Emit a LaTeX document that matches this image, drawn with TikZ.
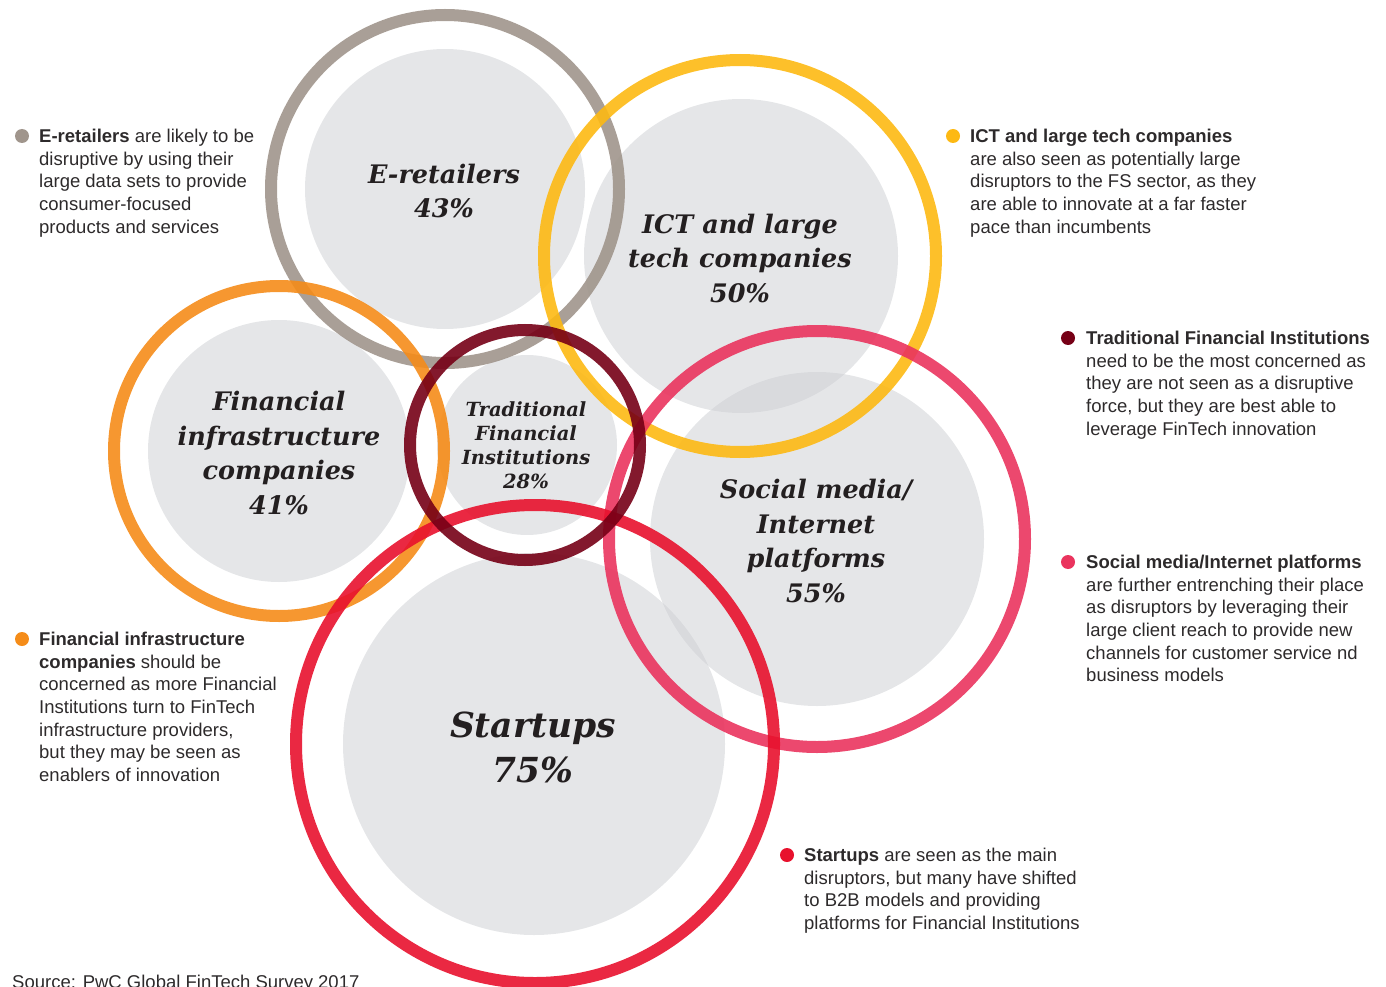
\documentclass[tikz,border=0pt]{standalone}
\usepackage{fontspec}
\setmainfont{Liberation Sans}
\newfontfamily\circlefont{DejaVu Serif}
\definecolor{eretail}{RGB}{160,149,140}
\definecolor{ict}{RGB}{253,185,19}
\definecolor{fininfra}{RGB}{245,140,25}
\definecolor{tradfi}{RGB}{118,0,22}
\definecolor{social}{RGB}{234,52,94}
\definecolor{startup}{RGB}{232,17,45}
\definecolor{discgray}{RGB}{204,206,210}
\definecolor{titleink}{RGB}{35,31,32}
\definecolor{bodyink}{RGB}{45,42,43}
\tikzset{
  disc/.style={circle, fill=discgray, fill opacity=0.5, inner sep=0pt},
  ring/.style={line width=12pt, draw opacity=0.9},
  circletitle/.style={font=\circlefont\bfseries\itshape\fontsize{25.5}{34.5}\selectfont, align=center, text=titleink},
  blurb/.style={anchor=north west, align=left, inner sep=0pt, text=bodyink, font=\fontsize{18.5}{22.6}\selectfont},
  bulletdot/.style={circle, inner sep=0pt, minimum size=14pt}
}
\begin{document}
\begin{tikzpicture}[x=1pt,y=-1pt]
\useasboundingbox (0,0) rectangle (1386,987);
% grey discs
\node[disc, minimum size=280pt] (eretdisc) at (445,189) {};
\node[disc, minimum size=314pt] (ictdisc) at (741,256) {};
\node[disc, minimum size=262pt] (findisc) at (279,451) {};
\node[disc, minimum size=180pt] (traddisc) at (527,445) {};
\node[disc, minimum size=334pt] (socdisc) at (817,539) {};
\node[disc, minimum size=382pt] (startdisc) at (534,744) {};
% coloured rings
\draw[ring, eretail] (445,189) circle[radius=174];
\draw[ring, ict] (740,256) circle[radius=196];
\draw[ring, fininfra] (279,451) circle[radius=165];
\draw[ring, social] (817,539) circle[radius=208];
\draw[ring, startup] (535,744) circle[radius=239];
\draw[ring, tradfi] (525,445) circle[radius=115];
% titles inside the discs
\node[circletitle] (erettitle) at (444,191) {E-retailers\\43\%};
\node[circletitle] (icttitle) at (740,258) {ICT and large\\tech companies\\50\%};
\node[circletitle] (fintitle) at (279,453) {Financial\\infrastructure\\companies\\41\%};
\node[circletitle, font=\circlefont\bfseries\itshape\fontsize{19.5}{24}\selectfont] (tradtitle) at (526,445) {Traditional\\Financial\\Institutions\\28\%};
\node[circletitle] (soctitle) at (816,541) {Social media/\\Internet\\platforms\\55\%};
\node[circletitle, font=\circlefont\bfseries\itshape\fontsize{34.5}{45}\selectfont] (starttitle) at (533,747) {Startups\\75\%};
% bullets and their texts
\node[bulletdot, fill=eretail] (eretdot) at (22,136) {};
\node[blurb] (eretnote) at (39,129) {\textbf{E-retailers} are likely to be\\disruptive by using their\\large data sets to provide\\consumer-focused\\products and services};
\node[bulletdot, fill=ict] (ictdot) at (953,136) {};
\node[blurb] (ictnote) at (970,129) {\textbf{ICT and large tech companies}\\are also seen as potentially large\\disruptors to the FS sector, as they\\are able to innovate at a far faster\\pace than incumbents};
\node[bulletdot, fill=tradfi] (traddot) at (1068,338) {};
\node[blurb] (tradnote) at (1086,331) {\textbf{Traditional Financial Institutions}\\need to be the most concerned as\\they are not seen as a disruptive\\force, but they are best able to\\leverage FinTech innovation};
\node[bulletdot, fill=social] (socdot) at (1068,562) {};
\node[blurb] (socnote) at (1086,555) {\textbf{Social media/Internet platforms}\\are further entrenching their place\\as disruptors by leveraging their\\large client reach to provide new\\channels for customer service nd\\business models};
\node[bulletdot, fill=fininfra] (findot) at (22,639) {};
\node[blurb] (finnote) at (39,632) {\textbf{Financial infrastructure}\\\textbf{companies} should be\\concerned as more Financial\\Institutions turn to FinTech\\infrastructure providers,\\but they may be seen as\\enablers of innovation};
\node[bulletdot, fill=startup] (startdot) at (787,855) {};
\node[blurb] (startnote) at (804,848) {\textbf{Startups} are seen as the main\\disruptors, but many have shifted\\to B2B models and providing\\platforms for Financial Institutions};
\node[blurb] (source) at (12,975) {Source: PwC Global FinTech Survey 2017};
\end{tikzpicture}
\end{document}
